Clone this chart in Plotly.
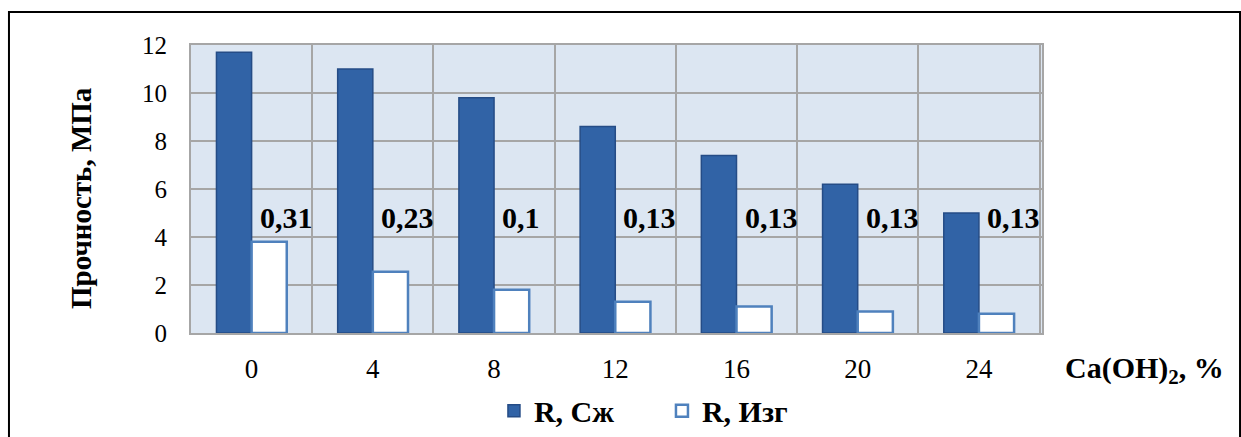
import plotly.graph_objects as go

categories = ["0", "4", "8", "12", "16", "20", "24"]
r_szh = [11.7, 11.0, 9.8, 8.6, 7.4, 6.2, 5.0]
r_izg = [3.8, 2.55, 1.8, 1.3, 1.1, 0.9, 0.8]
izg_labels = ["0,31", "0,23", "0,1", "0,13", "0,13", "0,13", "0,13"]
label_y = 4.8

SERIF = "Liberation Serif, Times New Roman, serif"

fig = go.Figure()
fig.add_trace(go.Bar(
    x=categories, y=r_szh, name="R, Сж",
    marker=dict(color="#3163A6", line=dict(color="#254C86", width=1.5)),
))
fig.add_trace(go.Bar(
    x=categories, y=r_izg, name="R, Изг",
    marker=dict(color="#FFFFFF", line=dict(color="#4F81BD", width=2.5)),
))

annotations = []
for i, lab in enumerate(izg_labels):
    annotations.append(dict(
        x=i + 0.05, y=label_y, xref="x", yref="y", text=lab, showarrow=False,
        xanchor="left", yanchor="middle",
        font=dict(family=SERIF, size=30, color="black", weight="bold"),
    ))
annotations.append(dict(
    x=-0.130, y=0.47, xref="paper", yref="paper", text="Прочность, МПа",
    textangle=-90, showarrow=False, xanchor="center", yanchor="middle",
    font=dict(family=SERIF, size=29, color="black", weight="bold"),
))
annotations.append(dict(
    x=1.121, y=-0.128, xref="paper", yref="paper", text="Ca(OH)<sub>2</sub>, %",
    showarrow=False, xanchor="center", yanchor="middle",
    font=dict(family=SERIF, size=30, color="black", weight="bold"),
))

fig.update_layout(
    width=1241, height=437,
    margin=dict(l=191, r=199, t=45, b=104, autoexpand=False),
    paper_bgcolor="white", plot_bgcolor="#DCE6F2",
    barmode="group", bargap=0.42, bargroupgap=0,
    showlegend=True,
    legend=dict(orientation="h", x=0.356, y=-0.27, xanchor="left", yanchor="middle",
                font=dict(family=SERIF, size=30, color="black", weight="bold"),
                itemwidth=30, entrywidth=123, entrywidthmode="pixels",
                traceorder="normal", bgcolor="rgba(0,0,0,0)"),
    annotations=annotations,
    shapes=[dict(type="rect", xref="paper", yref="paper",
                 x0=-0.2139, x1=1.2327, y0=-0.6, y1=1.1146,
                 line=dict(color="black", width=2), layer="below")],
    xaxis=dict(type="category", tickson="boundaries", showgrid=True, automargin=False,
               gridcolor="#A6A6A6", gridwidth=2, ticks="", showline=True,
               linecolor="#A6A6A6", linewidth=2, mirror=True,
               ticklabelstandoff=11,
               tickfont=dict(family=SERIF, size=27, color="black")),
    yaxis=dict(range=[0, 12], dtick=2, showgrid=True, gridcolor="#A6A6A6", gridwidth=2,
               automargin=False,
               ticks="", showline=True, linecolor="#A6A6A6", linewidth=2, mirror=True,
               ticklabelstandoff=17, zeroline=False,
               tickfont=dict(family=SERIF, size=25, color="black")),
)

fig.write_html("out.html", config={"displayModeBar": False},
               post_script="document.body.style.margin='0';")
